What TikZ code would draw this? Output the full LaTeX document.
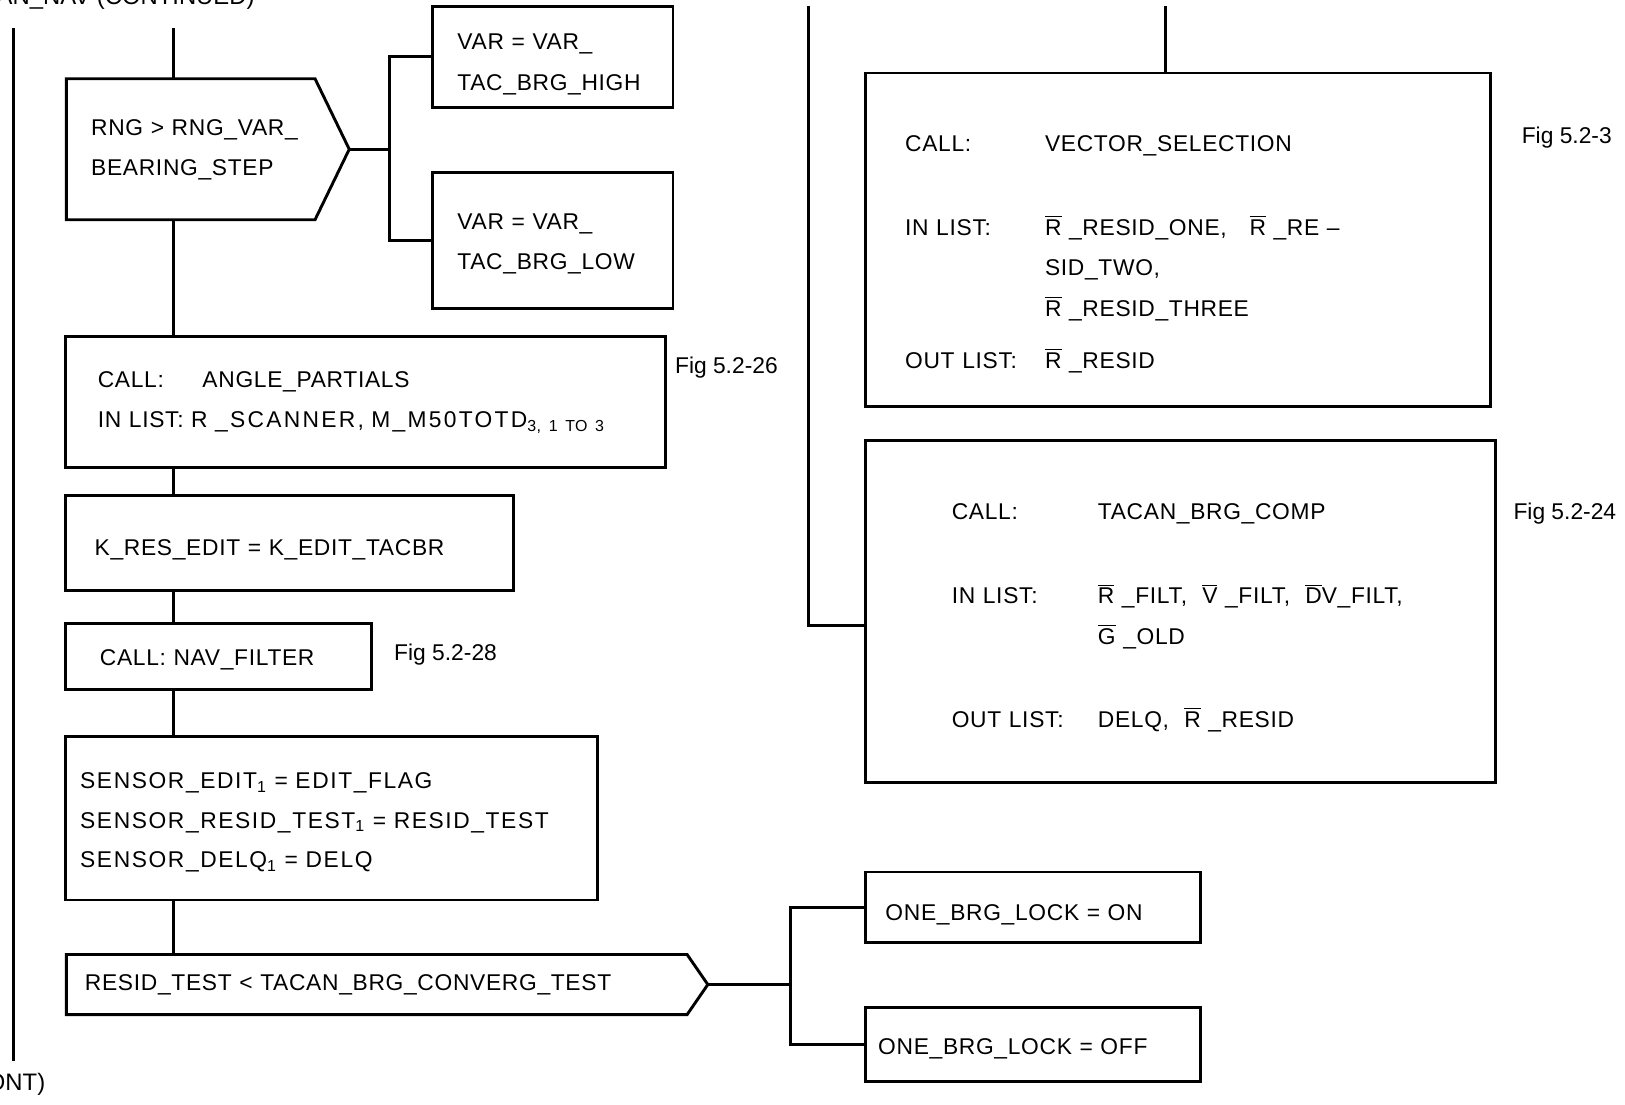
\documentclass[tikz,border=0pt]{standalone}
\usepackage{fontspec}
\setmainfont{Liberation Sans}
\newfontfamily\boxfont[LetterSpace=3]{Liberation Sans}
\newfontfamily\widefont[LetterSpace=7]{Liberation Sans}
\newfontfamily\widerfont[LetterSpace=10]{Liberation Sans}
\newcommand{\lbl}[2]{\makebox[#1][l]{#2}}
\newcommand{\barred}[1]{\ensuremath{\overline{\mbox{#1}}}}
\tikzset{
  toppad/.code={\def\boxtop{#1}},
  blk/.style={draw, line width=1.4pt, anchor=north west, align=left, inner ysep=0pt,
    font=\boxfont\fontsize{11}{19.5}\selectfont, toppad=8pt,
    execute at begin node={\rule{0pt}{\boxtop}}},
  cond/.style={blk, draw=none, outer sep=0pt},
  figref/.style={anchor=west, inner sep=0pt, font=\fontsize{11}{13}\selectfont},
  wire/.style={line width=1.4pt}
}

\begin{document}
\begin{tikzpicture}[x=0.5pt,y=-0.5pt]
  \useasboundingbox (0,0) rectangle (1568,1066);

  \node[anchor=base east, inner sep=0pt, font=\fontsize{11.5}{13}\selectfont] (title) at (246,4) {AN\_NAV (CONTINUED)};
  \node[anchor=base east, inner sep=0pt, font=\fontsize{11.5}{13}\selectfont] (cont) at (44,1052) {ONT)};

  \node[cond, text width=96pt, inner xsep=12pt, minimum height=68pt] (dec1) at (64,76)
    {RNG~>~RNG\_VAR\_\\BEARING\_STEP};
  \coordinate (dec1tip) at ([xshift=16.5pt]dec1.east);
  \draw[wire] (dec1.north west) -- (dec1.north east) -- (dec1tip) -- (dec1.south east) -- (dec1.south west) -- cycle;

  \node[blk, text width=92pt, inner xsep=12pt, minimum height=48.5pt, toppad=15pt] (varhigh) at (416,5)
    {VAR = VAR\_\\TAC\_BRG\_HIGH};
  \node[blk, text width=92pt, inner xsep=12pt, minimum height=65.5pt, toppad=11pt] (varlow) at (416,165)
    {VAR = VAR\_\\TAC\_BRG\_LOW};

  \node[blk, text width=258.5pt, inner xsep=15.5pt, minimum height=63.5pt] (call1) at (62,323)
    {\lbl{50.5pt}{CALL:}ANGLE\_PARTIALS\\
     \lbl{45pt}{IN LIST:}{\widerfont R \_SCANNER, M\_M50TOTD}\textsubscript{3, 1 TO 3}};
  \node[figref] (fig26) at (651,355) {Fig 5.2-26};

  \node[blk, text width=188pt, inner xsep=14pt, minimum height=45.5pt, toppad=14pt] (kres) at (62,477)
    {K\_RES\_EDIT = K\_EDIT\_TACBR};

  \node[blk, text width=114.5pt, inner xsep=16.5pt, minimum height=32pt, toppad=11pt] (navf) at (62,600)
    {CALL: NAV\_FILTER};
  \node[figref] (fig28) at (380,632) {Fig 5.2-28};

  \node[blk, font=\widefont\fontsize{11}{19}\selectfont, text width=242.5pt, inner xsep=7pt, minimum height=79pt, toppad=12pt] (sensor) at (62,709)
    {SENSOR\_EDIT\textsubscript{1} = EDIT\_FLAG\\
     SENSOR\_RESID\_TEST\textsubscript{1} = RESID\_TEST\\
     SENSOR\_DELQ\textsubscript{1} = DELQ};

  \node[cond, text width=281.5pt, inner xsep=9pt, minimum height=29pt] (dec2) at (64,921)
    {RESID\_TEST < TACAN\_BRG\_CONVERG\_TEST};
  \coordinate (dec2tip) at ([xshift=10pt]dec2.east);
  \draw[wire] (dec2.north west) -- (dec2.north east) -- (dec2tip) -- (dec2.south east) -- (dec2.south west) -- cycle;

  \node[blk, text width=142.5pt, inner xsep=9.5pt, minimum height=34pt, toppad=15pt] (lockon) at (834,840)
    {ONE\_BRG\_LOCK = ON};
  \node[blk, text width=149.5pt, inner xsep=6pt, minimum height=35.5pt, toppad=12pt] (lockoff) at (834,971)
    {ONE\_BRG\_LOCK = OFF};

  \node[blk, text width=263.5pt, inner xsep=19pt, minimum height=161pt, toppad=21.5pt] (vecsel) at (834,69)
    {\lbl{67.5pt}{CALL:}VECTOR\_SELECTION\\[21pt]
     \lbl{67.5pt}{IN LIST:}\mbox{\barred{R} \_RESID\_ONE,\quad\barred{R} \_RE \textendash}\\
     \lbl{67.5pt}{}SID\_TWO,\\
     \lbl{67.5pt}{}\barred{R} \_RESID\_THREE\\[5.5pt]
     \lbl{67.5pt}{OUT LIST:}\barred{R} \_RESID};
  \node[figref] (fig3) at (1468,133) {Fig 5.2-3};

  \node[blk, text width=221pt, inner xsep=41.5pt, minimum height=165pt, toppad=13.5pt] (tacbrg) at (834,424)
    {\lbl{70.5pt}{CALL:}TACAN\_BRG\_COMP\\[21pt]
     \lbl{70.5pt}{IN LIST:}\mbox{\barred{R} \_FILT,\ \ \barred{V} \_FILT,\ \ \barred{D}V\_FILT,}\\
     \lbl{70.5pt}{}\barred{G} \_OLD\\[20.5pt]
     \lbl{70.5pt}{OUT LIST:}DELQ,\ \ \barred{R} \_RESID};
  \node[figref] (fig24) at (1460,496) {Fig 5.2-24};

  \coordinate (spine) at (167,27);
  \coordinate (lnA) at (13,27);
  \coordinate (lnB) at (13,1024);
  \coordinate (rtop) at (780,6);
  \coordinate (vtop) at (1125,6);
  \coordinate (fork1) at ([xshift=19.5pt]dec1tip);
  \coordinate (fork2) at ([xshift=40pt]dec2tip);

  \draw[wire] (lnA) -- (lnB);
  \draw[wire] (spine) -- (spine |- dec1.north);
  \foreach \a/\b in {dec1/call1, call1/kres, kres/navf, navf/sensor, sensor/dec2}
    \draw[wire] (spine |- \a.south) -- (spine |- \b.north);
  \draw[wire] (dec1tip) -- (fork1);
  \draw[wire] (varhigh.west) -| (fork1) |- (varlow.west);
  \draw[wire] (dec2tip) -- (fork2);
  \draw[wire] (lockon.west) -| (fork2) |- (lockoff.west);
  \draw[wire] (vtop) -- (vtop |- vecsel.north);
  \draw[wire] (rtop) |- ([yshift=-6.5pt]tacbrg.west);
\end{tikzpicture}
\end{document}
